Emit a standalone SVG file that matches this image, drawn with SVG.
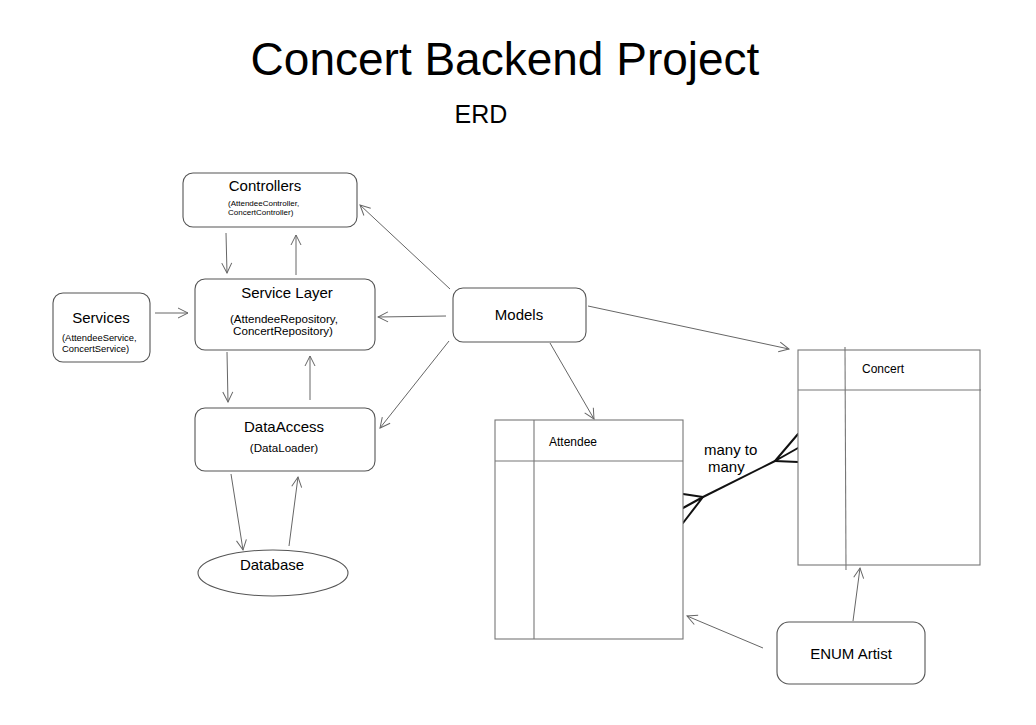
<svg xmlns="http://www.w3.org/2000/svg" width="1036" height="725" viewBox="0 0 1036 725">
<defs>
<style>
text{font-family:"Liberation Sans",Arial,sans-serif;fill:#000;}
.box{fill:#fff;stroke:#555;stroke-width:1.1;}
.tbl{fill:#fff;stroke:#777;stroke-width:1.1;}
.tl{stroke:#777;stroke-width:1.1;fill:none;}
.arr{stroke:#666;stroke-width:1;fill:none;marker-end:url(#ah);}
.crow{stroke:#111;stroke-width:2;fill:none;stroke-linecap:round;}
.lbl{font-size:15px;text-anchor:middle;}
.sub{text-anchor:middle;}
</style>
<marker id="ah" viewBox="0 0 12 12" refX="11" refY="6" markerWidth="12" markerHeight="12" markerUnits="userSpaceOnUse" orient="auto">
<path d="M1,1 L11,6 L1,11" fill="none" stroke="#666" stroke-width="1"/>
</marker>
</defs>
<rect width="1036" height="725" fill="#fff"/>
<text x="505" y="75" font-size="46" text-anchor="middle">Concert Backend Project</text>
<text x="481" y="123" font-size="25" text-anchor="middle">ERD</text>

<g id="connectors">
<line class="arr" x1="226" y1="233" x2="227" y2="273"/>
<line class="arr" x1="296" y1="275" x2="296" y2="235"/>
<line class="arr" x1="227" y1="352" x2="228" y2="402"/>
<line class="arr" x1="310" y1="400" x2="310" y2="356"/>
<line class="arr" x1="155" y1="313" x2="188" y2="313"/>
<line class="arr" x1="231" y1="474" x2="243" y2="550"/>
<line class="arr" x1="289" y1="546" x2="298" y2="477"/>
<line class="arr" x1="450" y1="289" x2="360" y2="205"/>
<line class="arr" x1="446" y1="316" x2="378" y2="317"/>
<line class="arr" x1="449" y1="341" x2="380" y2="428"/>
<line class="arr" x1="588" y1="306" x2="789" y2="349"/>
<line class="arr" x1="550" y1="343" x2="594" y2="419"/>
<line class="arr" x1="763" y1="648" x2="687" y2="616"/>
<line class="arr" x1="853" y1="621" x2="860" y2="568"/>
<g id="many-to-many">
<line class="crow" x1="703" y1="497" x2="775" y2="461"/>
<path class="crow" d="M683,494 L703,497 M683,508 L703,497 M683,523 L703,497"/>
<path class="crow" d="M798,434 L775,461 M798,448 L775,461 M798,462 L775,461"/>
<text x="704" y="455" font-size="15">many to</text>
<text x="708" y="472" font-size="15">many</text>
</g>
</g>

<g id="controllers">
<rect class="box" x="183" y="173" width="174" height="54" rx="10"/>
<text class="lbl" x="265" y="191">Controllers</text>
<text x="228" y="206" font-size="8">(AttendeeController,</text>
<text x="228" y="215" font-size="8">ConcertController)</text>
</g>

<g id="services">
<rect class="box" x="53" y="293" width="97" height="69" rx="10"/>
<text class="lbl" x="101" y="323">Services</text>
<text x="62" y="341" font-size="9.4">(AttendeeService,</text>
<text x="62" y="352" font-size="9.4">ConcertService)</text>
</g>

<g id="service-layer">
<rect class="box" x="195" y="279" width="180" height="71" rx="10"/>
<text class="lbl" x="287" y="298">Service Layer</text>
<text class="sub" x="284" y="323" font-size="11.6">(AttendeeRepository,</text>
<text class="sub" x="283" y="335" font-size="11.6">ConcertRepository)</text>
</g>

<g id="dataaccess">
<rect class="box" x="195" y="408" width="180" height="63" rx="10"/>
<text class="lbl" x="284" y="432">DataAccess</text>
<text class="sub" x="284" y="452" font-size="11.6">(DataLoader)</text>
</g>

<g id="database">
<ellipse class="box" cx="273" cy="573" rx="75" ry="23"/>
<text class="lbl" x="272" y="570">Database</text>
</g>

<g id="models">
<rect class="box" x="453" y="288" width="133" height="54" rx="10"/>
<text class="lbl" x="519" y="320">Models</text>
</g>

<g id="attendee">
<rect class="tbl" x="495" y="420" width="188" height="219"/>
<line class="tl" x1="534" y1="420" x2="534" y2="639"/>
<line class="tl" x1="495" y1="461" x2="683" y2="461"/>
<text x="549" y="446" font-size="12">Attendee</text>
</g>

<g id="concert">
<rect class="tbl" x="798" y="350" width="182" height="215"/>
<line class="tl" x1="845" y1="347" x2="846" y2="570"/>
<line class="tl" x1="798" y1="390" x2="981" y2="390"/>
<text x="862" y="373" font-size="12">Concert</text>
</g>

<g id="enum-artist">
<rect class="box" x="777" y="622" width="148" height="62" rx="12"/>
<text class="lbl" x="851" y="659">ENUM Artist</text>
</g>
</svg>
